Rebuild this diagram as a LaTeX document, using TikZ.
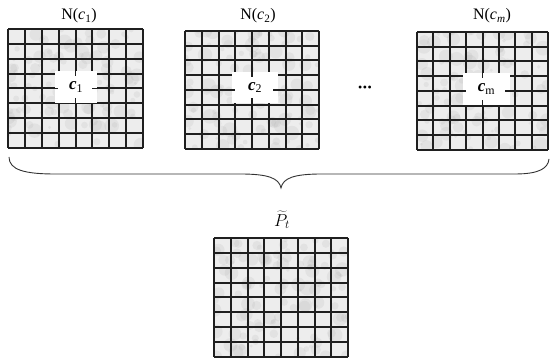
\documentclass[tikz,border=0pt]{standalone}
\usepackage{fontspec}
\setmainfont{Liberation Serif}
\usetikzlibrary{calc}
\tikzset{
  grid box/.style={draw=none, inner sep=0pt, outer sep=0pt, anchor=north west},
  gridline/.style={line width=1.6pt, black!88},
  lbl/.style={font=\fontsize{16}{18}\selectfont, inner sep=0pt},
  centre box/.style={fill=white, inner sep=0pt, outer sep=0pt, font=\fontsize{17}{19}\selectfont\bfseries\itshape},
  brace line/.style={line width=0.9pt, black!80},
  blotch/.style={fill=gray!80, opacity=0.12},
}
% #1 name, #2 x-left, #3 y-top, #4 width, #5 height
\newcommand\marblegrid[5]{%
  \node[grid box, minimum width=#4pt, minimum height=#5pt] (#1) at (#2,#3) {};
  \begin{scope}
    \clip (#2,#3) rectangle ++(#4,-#5);
    \fill[gray!14] (#2,#3) rectangle ++(#4,-#5);
    \foreach \k in {1,...,110}{
      \pgfmathsetmacro\px{#2+#4*rnd}\pgfmathsetmacro\py{#3-#5*rnd}\pgfmathsetmacro\pr{1.5+6*rnd}
      \fill[blotch] (\px,\py) circle (\pr pt);
    }
  \end{scope}
  \foreach \i in {0,...,8}{
    \pgfmathsetmacro\gx{round(#2+\i*#4/8)}
    \pgfmathsetmacro\gy{round(#3-\i*#5/8)}
    \draw[gridline] (\gx,#3) -- (\gx,{#3-#5});
    \draw[gridline] (#2,\gy) -- ({#2+#4},\gy);
  }
}
\newcommand\stubs[2]{%
  \draw[gridline] (#2.north -| #1.center) -- ++(0,-5);
  \draw[gridline] (#2.south -| #1.center) -- ++(0,5);
  \draw[gridline] (#2.west |- #1.center) -- ++(3,0);
  \draw[gridline] (#2.east |- #1.center) -- ++(-5,0);
}
\begin{document}
\begin{tikzpicture}[x=1pt,y=1pt]
  \pgfmathsetseed{11}
  \useasboundingbox (0,0) rectangle (550,358);
  \fill[white] (0,0) rectangle (550,358);

  \marblegrid{g1}{8}{329}{135}{119}
  \marblegrid{g2}{185}{327}{134}{118}
  \marblegrid{gm}{417}{326}{131}{118}
  \marblegrid{gp}{214}{120}{134}{119}

  \node[centre box, minimum width=42pt, minimum height=32pt] (b1) at (76,271) {c\textsubscript{\normalfont 1}};
  \node[centre box, minimum width=46pt, minimum height=31pt] (b2) at (255,270.5) {c\textsubscript{\normalfont 2}};
  \node[centre box, minimum width=47pt, minimum height=32pt] (bm) at (486.5,269) {c\textsubscript{\normalfont m}};
  \stubs{g1}{b1}
  \stubs{g2}{b2}
  \stubs{gm}{bm}

  \node[lbl] (l1) at (79,342) {N(\textit{c}\textsubscript{1})};
  \node[lbl] (l2) at (258,342) {N(\textit{c}\textsubscript{2})};
  \node[lbl] (lm) at (492,342) {N(\textit{c}\textsubscript{\textit{m}})};
  \node[lbl, font=\fontsize{17}{19}\selectfont] (lp) at (282,138) {$\widetilde{P}_t$};

  \node[inner sep=0pt, font=\fontsize{12}{12}\selectfont] (dots) at (365,269) {\textbullet\hspace{0.5pt}\textbullet\hspace{0.5pt}\textbullet};

  \coordinate (braceL) at (9,201);
  \coordinate (braceTip) at (281,170);
  \coordinate (braceR) at (549,199);
  \draw[brace line] (braceL) .. controls ($(braceL)+(0,-13)$) and ($(braceL)+(16,-17)$) .. ($(braceL)+(46,-17)$)
    -- ($(braceTip)+(-41,14)$) .. controls ($(braceTip)+(-13,14)$) and ($(braceTip)+(-2,10)$) .. (braceTip)
    .. controls ($(braceTip)+(2,10)$) and ($(braceTip)+(13,14)$) .. ($(braceTip)+(41,14)$)
    -- ($(braceR)+(-34,-15)$) .. controls ($(braceR)+(-9,-15)$) and ($(braceR)+(-1,-9)$) .. (braceR);
\end{tikzpicture}
\end{document}
